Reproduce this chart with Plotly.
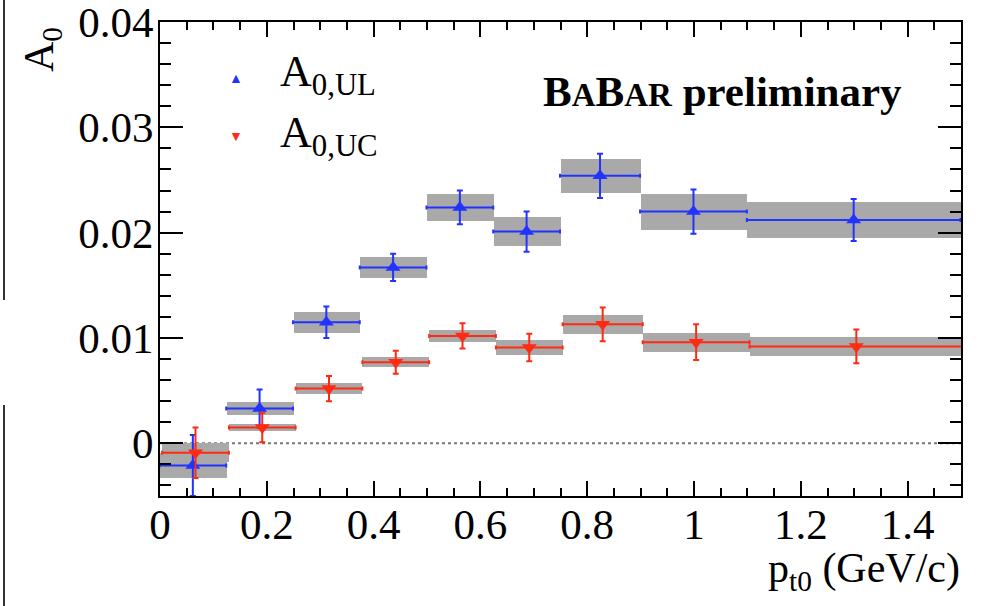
import plotly.graph_objects as go

# ---- data ----
bin_edges = [0.0, 0.125, 0.25, 0.375, 0.5, 0.625, 0.75, 0.9, 1.1, 1.5]
ul_values = [-0.0021, 0.0033, 0.0115, 0.0167, 0.0224, 0.0201, 0.0254, 0.0220, 0.0212]
ul_stat = [0.0029, 0.0018, 0.0015, 0.0013, 0.0016, 0.0019, 0.0021, 0.0021, 0.0020]
ul_sys = [0.0012, 0.0006, 0.0010, 0.0010, 0.0013, 0.0014, 0.0016, 0.0017, 0.0017]
uc_values = [-0.0009, 0.0015, 0.0052, 0.0077, 0.0102, 0.0091, 0.0113, 0.0096, 0.0092]
uc_stat = [0.0024, 0.0014, 0.0012, 0.0011, 0.0012, 0.0013, 0.0016, 0.0017, 0.0016]
uc_sys = [0.0009, 0.0003, 0.0005, 0.0005, 0.0006, 0.0007, 0.0009, 0.0009, 0.0009]
x_ticks = [0, 0.2, 0.4, 0.6, 0.8, 1, 1.2, 1.4]
y_ticks = [0, 0.01, 0.02, 0.03, 0.04]

centers = [(a + b) / 2 for a, b in zip(bin_edges[:-1], bin_edges[1:])]
widths = [b - a for a, b in zip(bin_edges[:-1], bin_edges[1:])]
half = [w / 2 for w in widths]

BLUE = "#2233ff"
RED = "#ff2a12"
GRAY = "#a9a9a9"
FONT = "Liberation Serif"

L, R, T, B = 160, 21, 22, 110
W, H = 982, 606
PW, PH = W - L - R, H - T - B


def px(xp):
    return (xp - L) / PW


def py(yp):
    return (H - B - yp) / PH


fig = go.Figure()

# systematic boxes
for vals, sys, shift in [(ul_values, ul_sys, 0.0), (uc_values, uc_sys, 0.004)]:
    fig.add_trace(go.Bar(
        x=[c + shift for c in centers], width=widths,
        base=[v - s for v, s in zip(vals, sys)], y=[2 * s for s in sys],
        marker=dict(color=GRAY, line=dict(width=0)), showlegend=False,
        hoverinfo="skip"))

# points with stat errors and bin widths
for vals, stat, color, sym, shift in [
        (ul_values, ul_stat, BLUE, "triangle-up", -0.001),
        (uc_values, uc_stat, RED, "triangle-down", 0.004)]:
    fig.add_trace(go.Scatter(
        x=[c + shift for c in centers], y=vals, mode="markers",
        marker=dict(symbol=sym, size=13, color=color),
        error_x=dict(type="data", array=half, symmetric=True, color=color,
                     thickness=2, width=2),
        error_y=dict(type="data", array=stat, symmetric=True, color=color,
                     thickness=2, width=3),
        showlegend=False))

# zero reference line
fig.add_shape(type="line", xref="x", yref="y", x0=bin_edges[0], x1=bin_edges[-1],
              y0=0, y1=0, line=dict(color="#777777", width=2, dash="dot"), layer="below")

axis_common = dict(showgrid=False, zeroline=False, showline=True, linecolor="black",
                   linewidth=2, mirror="ticks", ticks="inside", tickcolor="black",
                   automargin=False, ticklabeloverflow="allow",
                   tickfont=dict(family=FONT, size=43, color="black"))
fig.update_xaxes(range=[0, 1.5], tickvals=x_ticks, ticklen=15, tickwidth=2,
                 ticklabelstandoff=-11,
                 minor=dict(dtick=0.05, ticklen=8, ticks="inside", tickcolor="black", tickwidth=2),
                 **axis_common)
fig.update_yaxes(range=[-0.005, 0.04], tickvals=y_ticks, ticklen=23, tickwidth=2,
                 ticklabelstandoff=-4,
                 minor=dict(dtick=0.002, ticklen=11, ticks="inside", tickcolor="black", tickwidth=2),
                 **axis_common)

# axis titles
fig.add_annotation(xref="paper", yref="paper", x=px(42), y=py(50),
                   xanchor="center", yanchor="middle",
                   text="A<sub>0</sub>", textangle=-90, showarrow=False,
                   font=dict(family=FONT, size=42, color="black"))
fig.add_annotation(xref="paper", yref="paper", x=px(962), y=py(571), xanchor="right",
                   yanchor="middle", text="p<sub>t0</sub> (GeV/c)", showarrow=False,
                   font=dict(family=FONT, size=42, color="black"))

# legend (manual)
fig.add_annotation(xref="paper", yref="paper", x=px(236), y=py(77),
                   xanchor="center", yanchor="middle",
                   text="▲", showarrow=False, font=dict(size=14, color=BLUE))
fig.add_annotation(xref="paper", yref="paper", x=px(236), y=py(135),
                   xanchor="center", yanchor="middle",
                   text="▼", showarrow=False, font=dict(size=14, color=RED))
fig.add_annotation(xref="paper", yref="paper", x=px(278), y=py(74),
                   xanchor="left", yanchor="middle", text="A<sub>0,UL</sub>", showarrow=False,
                   font=dict(family=FONT, size=44, color="black"))
fig.add_annotation(xref="paper", yref="paper", x=px(278), y=py(136),
                   xanchor="left", yanchor="middle", text="A<sub>0,UC</sub>", showarrow=False,
                   font=dict(family=FONT, size=44, color="black"))

# BABAR label
fig.add_annotation(xref="paper", yref="paper", x=px(904), y=py(92),
                   xanchor="right", yanchor="middle",
                   text="<b>B<span style='font-size:33px'>A</span>B<span style='font-size:33px'>AR</span> preliminary</b>",
                   showarrow=False, font=dict(family=FONT, size=43, color="black"))

# remnant of neighbouring panel at far left
fig.add_shape(type="line", xref="paper", yref="paper", x0=px(4), x1=px(4),
              y0=py(0), y1=py(300), line=dict(color="#333333", width=2))
fig.add_shape(type="line", xref="paper", yref="paper", x0=px(4), x1=px(4),
              y0=py(405), y1=py(606), line=dict(color="#333333", width=2))

fig.update_layout(
    width=W, height=H, barmode="overlay", bargap=0,
    margin=dict(l=L, r=R, t=T, b=B, autoexpand=False),
    paper_bgcolor="white", plot_bgcolor="white", showlegend=False)

fig.write_html("out.html")
